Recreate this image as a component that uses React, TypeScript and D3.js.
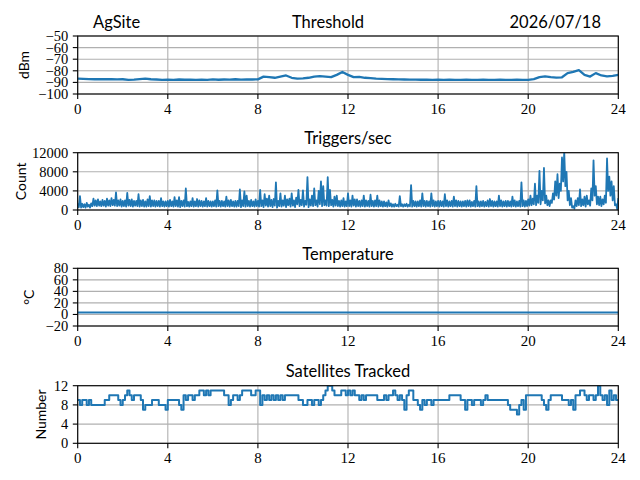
import * as d3 from "d3";

// hour ticks shared by all four panels
const hourTicks = [0, 4, 8, 12, 16, 20, 24];

// Threshold (dBm), one reading every 15 minutes from 00:00 to 24:00
const thresholdDbm = [
  -86.8, -87.0, -87.2, -87.3,
  -87.3, -87.2, -87.3, -87.4,
  -87.3, -87.8, -87.6, -87.2,
  -86.8, -87.3, -87.5, -87.8,
  -87.6, -87.8, -87.5, -87.7,
  -87.6, -87.9, -87.6, -87.8,
  -87.4, -87.7, -87.5, -87.6,
  -87.3, -87.6, -87.4, -87.5,
  -87.4, -85.0, -85.5, -86.0,
  -85.0, -84.0, -86.0, -86.8,
  -86.5, -86.0, -85.0, -84.5,
  -85.0, -85.5, -83.5, -81.0,
  -83.5, -85.5, -85.2, -86.0,
  -86.3, -86.8, -87.0, -87.2,
  -87.3, -87.4, -87.5, -87.6,
  -87.6, -87.7, -87.6, -87.8,
  -87.7, -87.8, -87.7, -87.8,
  -87.8, -87.7, -87.8, -87.8,
  -87.7, -87.8, -87.8, -87.7,
  -87.8, -87.8, -87.7, -87.8,
  -87.8, -87.2, -85.5, -84.8,
  -85.5, -85.8, -85.6, -82.0,
  -81.0, -79.5, -83.5, -85.0,
  -82.0, -84.0, -84.8, -84.3,
  -83.5,
];

// Triggers per second (hundreds): high readings on each 6-minute mark
const triggersHigh = [
  14, 29, 13, 12, 15, 11, 14, 24, 20, 22,
  18, 21, 19, 24, 20, 25, 21, 37, 20, 22,
  19, 20, 36, 21, 22, 19, 19, 33, 20, 21,
  18, 22, 29, 20, 20, 19, 19, 25, 18, 18,
  19, 21, 18, 27, 20, 27, 19, 20, 45, 17,
  18, 25, 18, 23, 20, 19, 18, 25, 19, 18,
  18, 20, 41, 19, 19, 18, 28, 20, 21, 18,
  19, 19, 43, 20, 39, 30, 19, 21, 18, 22,
  19, 42, 20, 33, 24, 30, 21, 23, 58, 19,
  35, 20, 30, 22, 24, 35, 20, 26, 42, 21,
  41, 19, 69, 22, 30, 45, 20, 40, 60, 50,
  20, 69, 42, 21, 28, 30, 19, 20, 25, 18,
  35, 20, 30, 22, 22, 19, 20, 30, 20, 19,
  32, 19, 20, 30, 20, 18, 18, 16, 20, 14,
  12, 13, 11, 29, 12, 12, 13, 11, 52, 19,
  18, 18, 20, 35, 19, 19, 18, 35, 20, 18,
  19, 19, 18, 33, 20, 18, 19, 28, 20, 19,
  18, 18, 19, 20, 20, 17, 19, 50, 18, 18,
  19, 17, 20, 23, 19, 18, 18, 30, 20, 18,
  19, 19, 18, 28, 20, 18, 19, 58, 20, 19,
  22, 30, 24, 55, 30, 82, 40, 88, 30, 20,
  20, 35, 60, 75, 55, 110, 122, 80, 40, 25,
  8, 20, 25, 43, 22, 28, 30, 20, 45, 104,
  50, 28, 28, 22, 30, 108, 70, 60, 50, 12,
  25,
];

// Triggers per second (hundreds): low readings 3 minutes after each mark
const triggersLow = [
  6, 5, 6, 5, 7, 5, 8, 9, 8, 9,
  8, 9, 7, 9, 8, 10, 9, 8, 9, 7,
  8, 7, 9, 8, 7, 9, 8, 7, 8, 7,
  7, 8, 7, 8, 7, 8, 7, 8, 7, 8,
  7, 8, 7, 8, 7, 6, 8, 7, 8, 7,
  8, 7, 8, 7, 8, 7, 8, 7, 8, 7,
  8, 7, 8, 7, 8, 7, 8, 7, 8, 7,
  7, 8, 6, 8, 7, 8, 7, 8, 7, 8,
  7, 8, 6, 9, 7, 8, 6, 9, 5, 8,
  7, 9, 6, 10, 7, 9, 6, 12, 8, 10,
  7, 11, 6, 9, 8, 10, 7, 12, 8, 10,
  9, 8, 10, 7, 9, 8, 7, 8, 7, 8,
  8, 7, 9, 7, 8, 7, 8, 7, 8, 7,
  8, 7, 8, 7, 8, 7, 8, 7, 8, 7,
  7, 8, 7, 8, 7, 8, 7, 8, 7, 8,
  7, 8, 7, 8, 7, 8, 7, 8, 7, 8,
  7, 8, 7, 8, 7, 8, 7, 8, 7, 8,
  7, 8, 7, 8, 7, 8, 7, 8, 7, 8,
  7, 8, 7, 8, 7, 8, 7, 8, 7, 8,
  7, 8, 7, 8, 7, 8, 7, 8, 7, 8,
  9, 10, 12, 10, 15, 12, 20, 14, 10, 8,
  15, 22, 30, 25, 40, 60, 50, 20, 10, 5,
  3, 8, 10, 8, 10, 7, 12, 9, 20, 30,
  12, 10, 8, 12, 15, 40, 30, 20, 10, 2,
];

// Temperature (°C), sparse readings
const temperatureHours = [0, 6, 12, 18, 24];
const temperatureC = [3.5, 3.5, 3.5, 3.5, 3.5];

// Satellites tracked, one reading every 6 minutes
const satellites = [
  9, 8, 9, 9, 8, 9, 8, 8, 8, 8,
  8, 8, 9, 9, 10, 10, 10, 10, 9, 8,
  9, 10, 11, 10, 9, 10, 10, 10, 9, 7,
  8, 8, 8, 9, 9, 9, 8, 8, 8, 7,
  9, 9, 9, 9, 9, 8, 7, 10, 9, 10,
  10, 9, 10, 10, 11, 11, 10, 11, 10, 11,
  11, 11, 11, 11, 11, 10, 10, 8, 9, 10,
  10, 9, 10, 11, 11, 11, 11, 10, 10, 11,
  11, 8, 10, 9, 10, 9, 10, 9, 10, 9,
  10, 9, 10, 10, 10, 10, 10, 10, 9, 9,
  8, 8, 9, 9, 8, 9, 9, 8, 9, 10,
  11, 12, 12, 11, 10, 10, 10, 11, 11, 10,
  11, 10, 11, 10, 10, 9, 10, 9, 10, 10,
  10, 10, 10, 9, 9, 9, 10, 9, 10, 10,
  11, 10, 9, 10, 9, 7, 10, 11, 11, 9,
  9, 8, 7, 9, 8, 9, 9, 8, 9, 9,
  9, 9, 9, 9, 9, 10, 10, 10, 10, 10,
  9, 9, 7, 9, 9, 8, 9, 9, 9, 8,
  9, 10, 9, 9, 9, 9, 9, 9, 9, 9,
  9, 8, 7, 7, 7, 6, 8, 9, 7, 10,
  10, 10, 10, 10, 10, 10, 9, 8, 7, 9,
  10, 10, 10, 10, 10, 9, 9, 9, 8, 9,
  7, 10, 10, 11, 11, 10, 9, 10, 10, 9,
  10, 12, 10, 9, 10, 8, 11, 9, 10, 9,
  9,
];

const thresholdTicks = [-100, -90, -80, -70, -60, -50];
const triggerTicks = [0, 4000, 8000, 12000];
const temperatureTicks = [-20, 0, 20, 40, 60, 80];
const satelliteTicks = [0, 4, 8, 12];

const LEFT = 77.7;
const RIGHT = 618.3;
const BLUE = "#1f77b4";
const SERIF = "'Liberation Serif', 'Times New Roman', serif";
const SANS = "Lato, 'Liberation Sans', sans-serif";

const x = d3.scaleLinear().domain([0, 24]).range([LEFT, RIGHT]);

const fmt = (v: number) => (v < 0 ? "\u2212" : "") + Math.abs(v);

type Pt = [number, number];

interface PanelProps {
  id: string;
  top: number;
  bottom: number;
  domain: [number, number];
  ticks: number[];
  title: string;
  ylabel: string;
  ylabelX: number;
  series: Pt[];
  step?: boolean;
  lineWidth?: number;
}

function Panel({ id, top, bottom, domain, ticks, title, ylabel, ylabelX, series, step, lineWidth = 2 }: PanelProps) {
  const y = d3.scaleLinear().domain(domain).range([bottom, top]);
  const line = d3
    .line<Pt>()
    .x((d) => x(d[0]))
    .y((d) => y(d[1]))
    .curve(step ? d3.curveStepAfter : d3.curveLinear);
  const midY = (top + bottom) / 2;

  return (
    <g>
      <defs>
        <clipPath id={id}>
          <rect x={LEFT} y={top} width={RIGHT - LEFT} height={bottom - top} />
        </clipPath>
      </defs>
      {/* grid */}
      {hourTicks.map((h) => (
        <line key={"gx" + h} x1={x(h)} x2={x(h)} y1={top} y2={bottom} stroke="#b0b0b0" strokeWidth={1.1} />
      ))}
      {ticks.map((t) => (
        <line key={"gy" + t} x1={LEFT} x2={RIGHT} y1={y(t)} y2={y(t)} stroke="#b0b0b0" strokeWidth={1.1} />
      ))}
      <path
        d={line(series) || ""}
        fill="none"
        stroke={BLUE}
        strokeWidth={lineWidth}
        strokeLinejoin="round"
        clipPath={`url(#${id})`}
      />
      <rect x={LEFT} y={top} width={RIGHT - LEFT} height={bottom - top} fill="none" stroke="#000" strokeWidth={1.1} />
      {/* x ticks */}
      {hourTicks.map((h) => (
        <g key={"tx" + h}>
          <line x1={x(h)} x2={x(h)} y1={bottom} y2={bottom + 4.9} stroke="#000" strokeWidth={1.1} />
          <text x={x(h)} y={bottom + 19.5} textAnchor="middle" style={{ fontFamily: SERIF, fontSize: 15 }}>
            {h}
          </text>
        </g>
      ))}
      {/* y ticks */}
      {ticks.map((t) => (
        <g key={"ty" + t}>
          <line x1={LEFT - 4.9} x2={LEFT} y1={y(t)} y2={y(t)} stroke="#000" strokeWidth={1.1} />
          <text
            x={LEFT - 9.5}
            y={y(t)}
            dy="0.34em"
            textAnchor="end"
            style={{ fontFamily: SERIF, fontSize: 14.5 }}
          >
            {fmt(t)}
          </text>
        </g>
      ))}
      {title && (
        <text x={(LEFT + RIGHT) / 2} y={top - 8.3} textAnchor="middle" style={{ fontFamily: SANS, fontSize: 16.5 }}>
          {title}
        </text>
      )}
      <text
        transform={`translate(${ylabelX},${midY}) rotate(-90)`}
        textAnchor="middle"
        style={{ fontFamily: SANS, fontSize: 14 }}
      >
        {ylabel}
      </text>
    </g>
  );
}

export default function App() {
  const thresholdPts: Pt[] = thresholdDbm.map((v, i) => [i * 0.25, v]);
  const triggerPts: Pt[] = [];
  triggersHigh.forEach((v, i) => {
    triggerPts.push([i * 0.1, v * 100]);
    if (i < triggersLow.length) triggerPts.push([i * 0.1 + 0.05, triggersLow[i] * 100]);
  });
  const tempPts: Pt[] = temperatureC.map((v, i) => [temperatureHours[i], v]);
  const satPts: Pt[] = satellites.map((v, i) => [i * 0.1, v]);

  return (
    <svg
      width={640}
      height={480}
      style={{ position: "absolute", left: 0, top: 0, background: "#fff" }}
    >
      <rect width={640} height={480} fill="#fff" />
      <Panel
        id="c1"
        top={36}
        bottom={94}
        domain={[-100, -50]}
        ticks={thresholdTicks}
        title=""
        ylabel="dBm"
        ylabelX={29}
        series={thresholdPts}
        lineWidth={2.3}
      />
      <text x={93} y={27.7} style={{ fontFamily: SANS, fontSize: 16.5 }}>AgSite</text>
      <text x={328} y={27.7} textAnchor="middle" style={{ fontFamily: SANS, fontSize: 16.5 }}>Threshold</text>
      <text x={601} y={27.7} textAnchor="end" style={{ fontFamily: SANS, fontSize: 16.5 }}>2026/07/18</text>
      <Panel
        id="c2"
        top={152.7}
        bottom={210}
        domain={[0, 12000]}
        ticks={triggerTicks}
        title="Triggers/sec"
        ylabel="Count"
        ylabelX={26}
        series={triggerPts}
        lineWidth={1.8}
      />
      <Panel
        id="c3"
        top={268.3}
        bottom={326}
        domain={[-20, 80]}
        ticks={temperatureTicks}
        title="Temperature"
        ylabel="°C"
        ylabelX={34}
        series={tempPts}
      />
      <Panel
        id="c4"
        top={385.7}
        bottom={443.3}
        domain={[0, 12]}
        ticks={satelliteTicks}
        title="Satellites Tracked"
        ylabel="Number"
        ylabelX={46}
        series={satPts}
        step
      />
    </svg>
  );
}
